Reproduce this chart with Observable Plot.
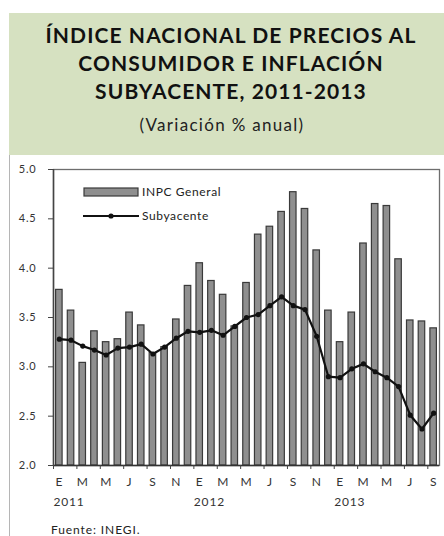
<!DOCTYPE html>
<html>
<head>
<meta charset="utf-8">
<script src="https://cdn.jsdelivr.net/npm/d3@7"></script>
<script src="https://cdn.jsdelivr.net/npm/@observablehq/plot@0.6"></script>
<style>
  html, body { margin: 0; padding: 0; background: #fff; }
  #page { position: relative; width: 444px; height: 536px; overflow: hidden; font-family: Lato, "Open Sans", sans-serif; color: #222; }
  #titlebox { position: absolute; left: 9px; top: 13px; width: 435px; height: 142px; background: #d6e1c1; }
  .tl { position: absolute; left: 9px; width: 444px; text-align: center; white-space: nowrap; }
  .t { font-weight: 700; font-size: 21px; letter-spacing: 1.1px; color: #111; }
  .st { font-size: 17px; letter-spacing: 1.3px; color: #222; }
  #leftline { position: absolute; left: 9px; top: 155px; width: 1px; height: 381px; background: #b5b5b5; }
  #chart { position: absolute; left: 0; top: 155px; }
  #chart svg text { letter-spacing: 0.8px; }
  #legend { position: absolute; left: 83px; top: 182px; font-size: 12px; letter-spacing: 0.6px; color: #222; }
  .lr { position: relative; height: 24px; }
  .lr svg { position: absolute; left: 0; top: 0; }
  .lr span { position: absolute; left: 59px; top: 2px; white-space: nowrap; }
  #source { position: absolute; left: 51px; top: 522px; font-size: 12px; letter-spacing: 0.9px; color: #222; }
</style>
</head>
<body>
<div id="page">
  <div id="titlebox"></div>
  <div class="tl t" style="top:22px">ÍNDICE NACIONAL DE PRECIOS AL</div>
  <div class="tl t" style="top:50px">CONSUMIDOR E INFLACIÓN</div>
  <div class="tl t" style="top:78px">SUBYACENTE, 2011-2013</div>
  <div class="tl st" style="top:114px; left:0px">(Variación % anual)</div>
  <div id="leftline"></div>
  <div id="chart"></div>
  <div id="legend">
    <div class="lr"><svg width="56" height="18"><rect x="1" y="6" width="54" height="8" fill="#8f8f8f" stroke="#3a3a3a" stroke-width="1.2"></rect></svg><span>INPC General</span></div>
    <div class="lr"><svg width="56" height="18"><line x1="0" y1="10" x2="56" y2="10" stroke="#111" stroke-width="2.2"></line><circle cx="28" cy="10" r="2.6" fill="#111"></circle></svg><span>Subyacente</span></div>
  </div>
  <div id="source">Fuente: INEGI.</div>
</div>
<script>
// Month abbreviations (Spanish)
const meses = ["E","F","M","A","M","J","J","A","S","O","N","D"];
// Years shown
const years = ["2011","2012","2013"];
// INPC General, annual % change, Jan 2011 – Sep 2013
const inpcGeneral = [3.78,3.57,3.04,3.36,3.25,3.28,3.55,3.42,3.14,3.20,3.48,3.82,
                     4.05,3.87,3.73,3.41,3.85,4.34,4.42,4.57,4.77,4.60,4.18,3.57,
                     3.25,3.55,4.25,4.65,4.63,4.09,3.47,3.46,3.39];
// Subyacente (core), annual % change
const subyacente = [3.28,3.27,3.21,3.17,3.12,3.19,3.20,3.23,3.13,3.20,3.29,3.36,
                    3.35,3.37,3.32,3.41,3.50,3.53,3.62,3.71,3.62,3.58,3.31,2.90,
                    2.89,2.98,3.03,2.95,2.89,2.80,2.51,2.37,2.53];
// Y ticks
const yTicks = [2.0,2.5,3.0,3.5,4.0,4.5,5.0];

const n = inpcGeneral.length;
const data = inpcGeneral.map((v, i) => ({i, inpc: v, sub: subyacente[i], mes: meses[i % 12]}));
const yearData = years.map((y, k) => ({start: k * 12, label: y}));
const yMin = yTicks[0];

const chart = Plot.plot({
  width: 444,
  height: 381,
  marginTop: 14,
  marginLeft: 53,
  marginRight: 5,
  marginBottom: 71,
  x: {type: "linear", domain: [0, n]},
  y: {domain: [yTicks[0], yTicks[yTicks.length - 1]]},
  style: {fontFamily: "Lato, sans-serif", fontSize: "11px", color: "#333", background: "transparent"},
  marks: [
    Plot.frame({stroke: "#6e6e6e", strokeWidth: 1.3}),
    Plot.rectY(data, {x1: "i", x2: d => d.i + 1, y1: () => yMin, y2: "inpc", insetLeft: 2.6, insetRight: 2.6,
      fill: "#8f8f8f", stroke: "#3a3a3a", strokeWidth: 1.2}),
    Plot.line(data, {x: d => d.i + 0.5, y: "sub", stroke: "#111", strokeWidth: 2.2}),
    Plot.dot(data, {x: d => d.i + 0.5, y: "sub", r: 2.6, fill: "#111", stroke: "none"}),
    Plot.ruleY([yMin], {stroke: "#333", strokeWidth: 1.5}),
    Plot.ruleX([0], {stroke: "#444", strokeWidth: 1.5}),
    Plot.axisY({ticks: yTicks, tickFormat: d3.format(".1f"), tickSize: 5, tickPadding: 12, label: null,
      stroke: "#444", fill: "#333", fontSize: 11}),
    Plot.axisX({ticks: d3.range(0, n, 2), tickFormat: () => "", tickSize: 4, label: null, stroke: "#444"}),
    Plot.text(data.filter(d => d.i % 2 === 0), {x: d => d.i + 0.5, text: "mes", frameAnchor: "bottom", dy: 20,
      fontSize: 12, fill: "#333"}),
    Plot.text(yearData, {x: "start", text: "label", frameAnchor: "bottom", dy: 40, textAnchor: "start",
      fontSize: 12, fill: "#333"})
  ]
});
document.getElementById("chart").appendChild(chart);
</script>
</body>
</html>
